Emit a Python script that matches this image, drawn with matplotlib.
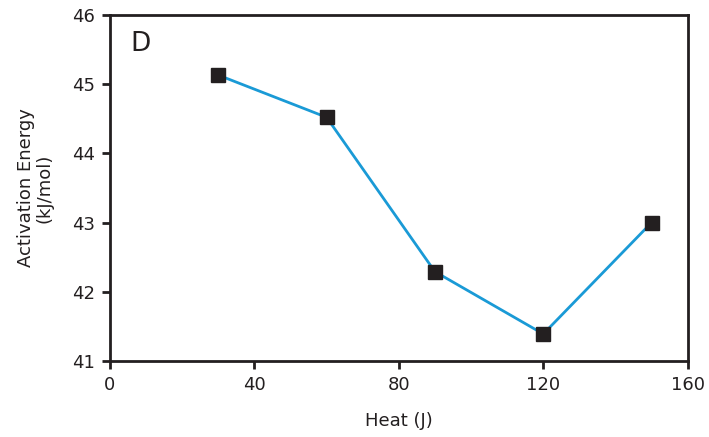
import matplotlib
matplotlib.use("Agg")
import matplotlib.pyplot as plt

# data
heat = [30, 60, 90, 120, 150]
energy = [45.13, 44.52, 42.29, 41.39, 43.0]
x_ticks = [0, 40, 80, 120, 160]
y_ticks = [41, 42, 43, 44, 45, 46]

plt.rcParams['font.family'] = ['DejaVu Sans']

fig = plt.figure(figsize=(7.09, 4.37), dpi=100)
ax = fig.add_axes([0.155, 0.174, 0.815, 0.792])

ax.plot(heat, energy, color='#1a9ad6', linewidth=2, zorder=2)
ax.plot(heat, energy, linestyle='none', marker='s', markersize=9.5,
        color='#231f20', zorder=3)

ax.set_xlim(0, 160)
ax.set_ylim(41, 46)
ax.set_xticks(x_ticks)
ax.set_yticks(y_ticks)
ax.tick_params(direction='out', length=6, width=2, labelsize=13,
               colors='#231f20', pad=5)
for s in ax.spines.values():
    s.set_linewidth(2)
    s.set_color('#231f20')

ax.set_xlabel('Heat (J)', fontsize=13, color='#231f20', labelpad=13)
ax.set_ylabel('Activation Energy\n(kJ/mol)', fontsize=13, color='#231f20',
              labelpad=13, linespacing=1.05)
ax.text(0.035, 0.915, 'D', transform=ax.transAxes, fontsize=19,
        color='#231f20', va='center', ha='left')

fig.savefig('out.png', dpi=100)
